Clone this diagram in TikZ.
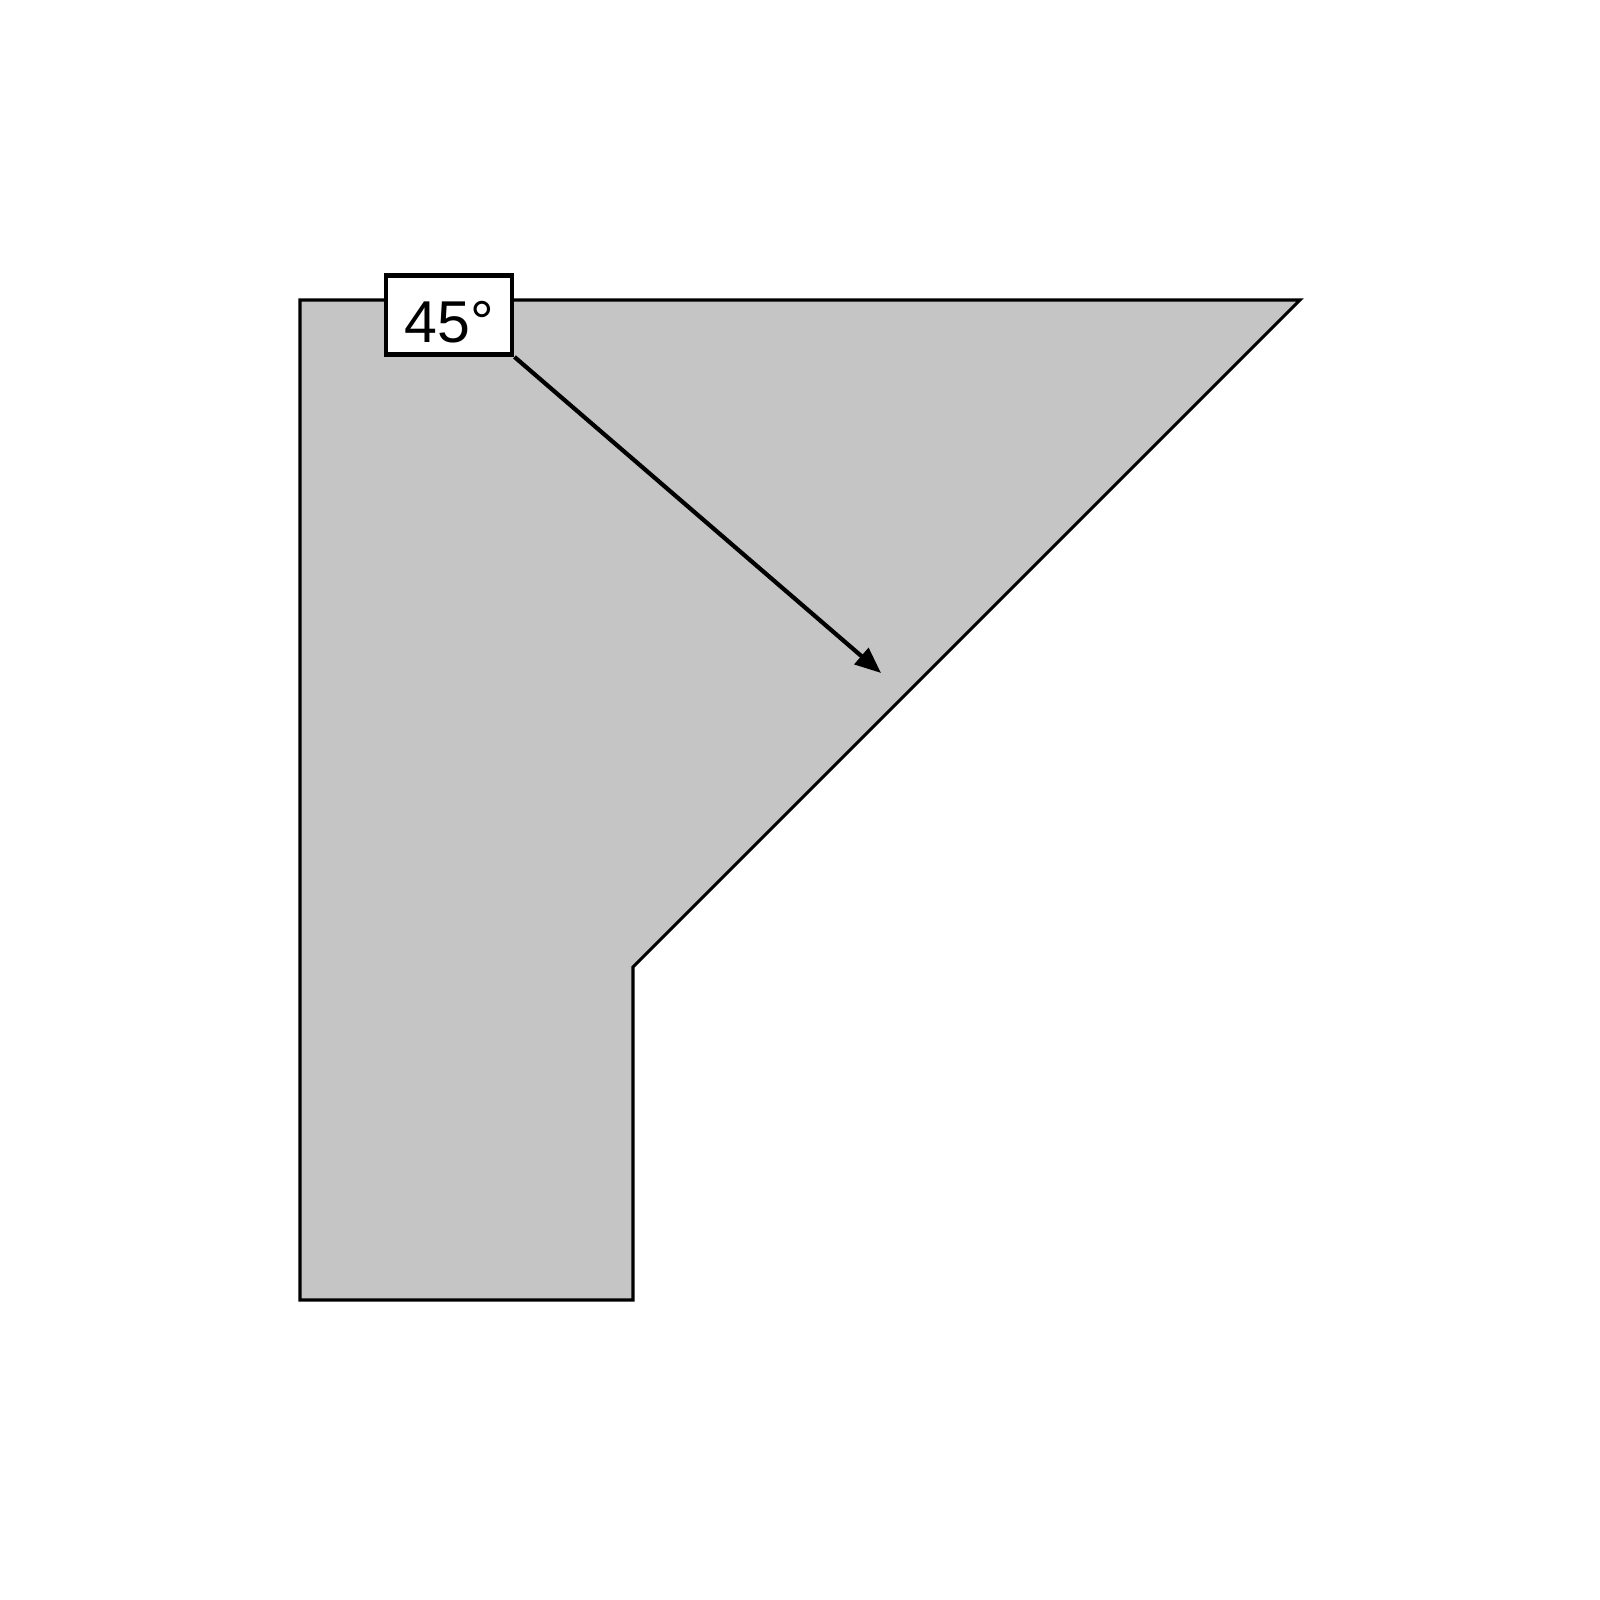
\documentclass[tikz,border=0pt]{standalone}
\usepackage{fontspec}
\setmainfont{Liberation Sans}
\usepackage{tikz}
\usetikzlibrary{positioning}
\usetikzlibrary{arrows.meta}
\definecolor{chapa}{RGB}{197,197,197}

\begin{document}
\begin{tikzpicture}
        \tikzstyle{contorno} = [draw, line width=0.9pt, fill=chapa]
        \tikzstyle{etiqueta} = [draw, line width=1.4pt, fill=white, minimum width=1.26cm, minimum height=0.79cm, inner sep=0pt, text height=0.55cm, text depth=0pt, font=\fontsize{16.8}{20}\selectfont]
        \tikzstyle{flecha} = [-{Triangle[length=2.6mm,width=2.1mm]}, line width=1.2pt]

        \useasboundingbox (0,0) rectangle (16,16);

        % Vertices de la pieza
        \coordinate (a) at (3, 13);
        \coordinate (b) at (13, 13);
        \coordinate (c) at (6.33, 6.33);
        \coordinate (d) at (6.33, 3);
        \coordinate (e) at (3, 3);

        % Pieza
        \draw[contorno] (a) -- (b) -- (c) -- (d) -- (e) -- cycle;

        % Etiqueta del angulo
        \node[etiqueta](angulo) at (4.49, 12.85) {45°};
        \coordinate (punta) at (8.81, 9.27);

        % Flecha
        \draw[flecha] (angulo.south east) -- (punta);
    \end{tikzpicture}
\end{document}
